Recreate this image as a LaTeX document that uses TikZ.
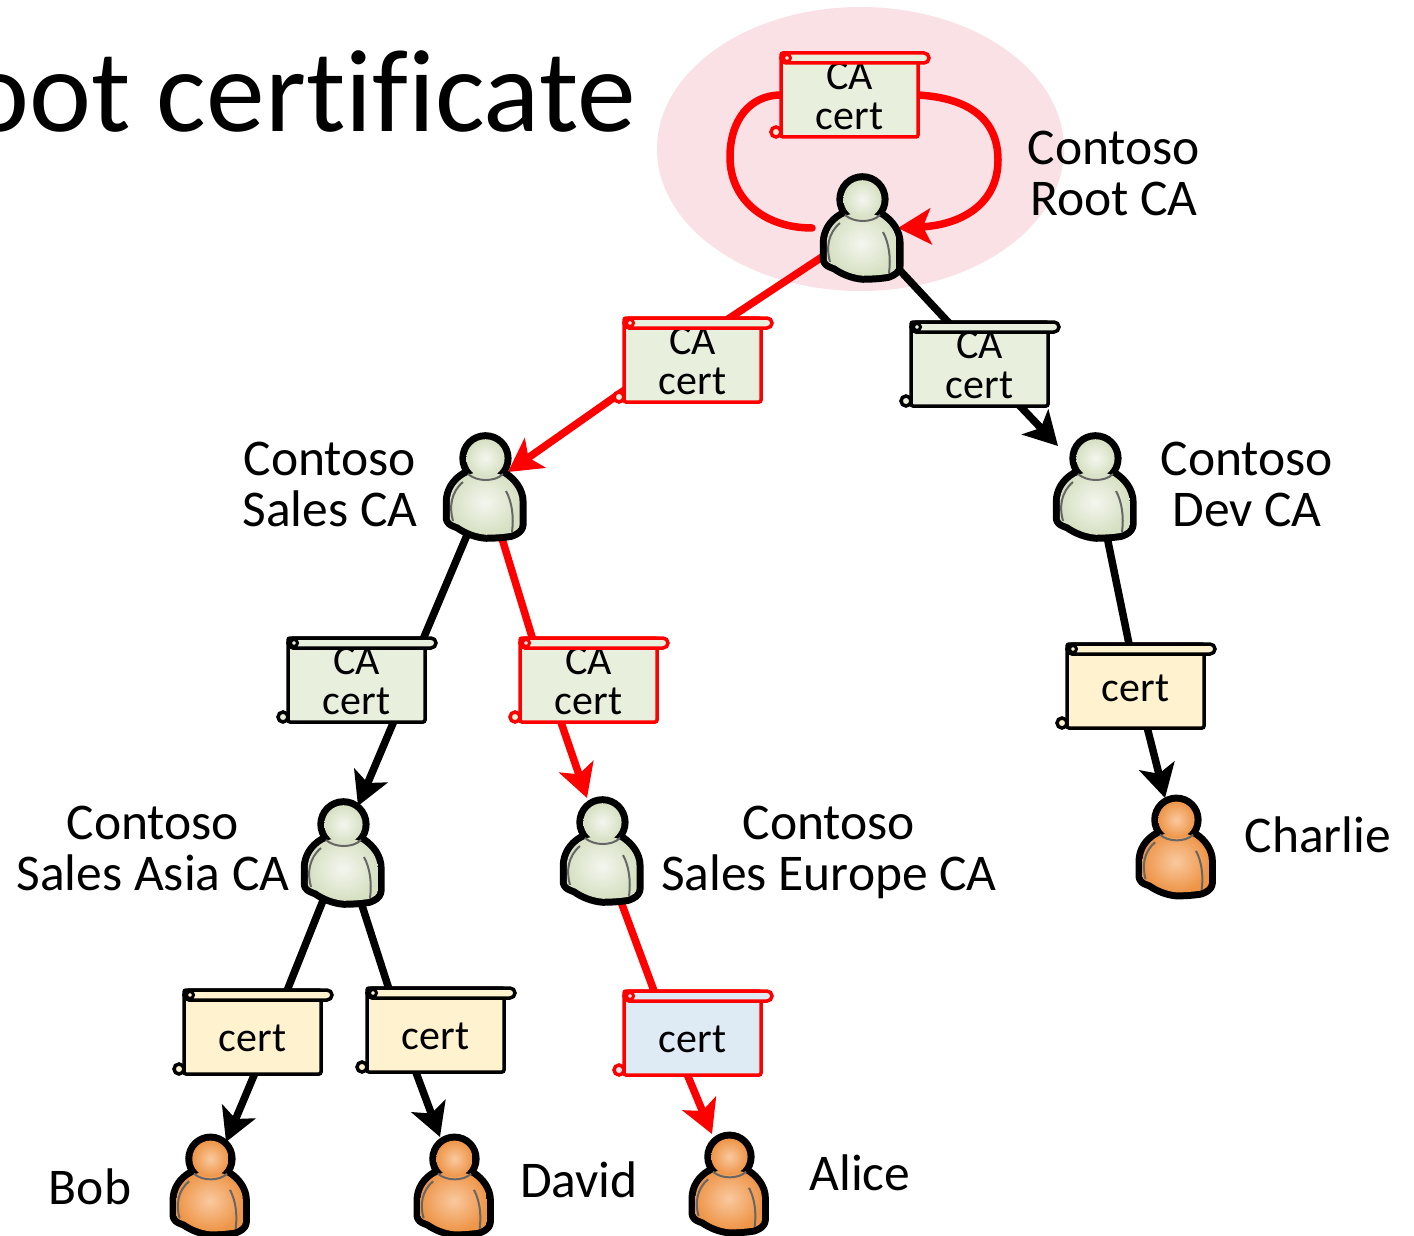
\documentclass[tikz,border=0pt]{standalone}
\usepackage{fontspec}
\setmainfont{Carlito}
\newfontfamily\titlefont[Ligatures=NoCommon]{Carlito}
\usetikzlibrary{arrows.meta,backgrounds}
\definecolor{caFill}{HTML}{E9EFDD}
\definecolor{userFill}{HTML}{FFF2CF}
\definecolor{aliceFill}{HTML}{DEEBF5}
\definecolor{rootPink}{HTML}{FAE1E5}
\definecolor{caOuter}{HTML}{D6E0C2}
\definecolor{caInner}{HTML}{F4F6EF}
\definecolor{userOuter}{HTML}{EE9548}
\definecolor{userInner}{HTML}{F9C99F}
\definecolor{collar}{HTML}{666666}
\newcommand{\twolines}{\rule{0pt}{30pt}}
\newcommand{\oneline}[1][40]{\rule{0pt}{#1pt}}
\tikzset{
    cert body/.style={rectangle,rounded corners=2pt,line width=3.5pt,minimum width=137pt,minimum height=84pt,inner sep=0pt,outer sep=0pt,align=center,font=\fontsize{42}{40}\selectfont},
    cert roll/.style={line width=3.5pt,rounded corners=5pt},
    person box/.style={rectangle,minimum width=84pt,minimum height=108pt,inner sep=0pt,outer sep=0pt},
    name label/.style={align=center,inner sep=0pt,font=\fontsize{51.5}{51}\selectfont},
    black link/.style={color=black,line width=7.5pt},
    red link/.style={color=red,line width=7.5pt}
}
\newcommand{\certscroll}[5]{%
    \node[cert body,draw=#3,fill=#4] (#1) at (#2) {#5};
    \draw[cert roll,draw=#3,fill=#4] (#1.north west) rectangle ([shift={(148,10)}]#1.north west);
    \draw[draw=#3,fill=#4,line width=3pt] ([shift={(6,5)}]#1.north west) circle[radius=3.5];
    \draw[draw=#3,fill=#4,line width=3.5pt] ([shift={(-5,-5)}]#1.south west) circle[radius=5];
}
\newcommand{\person}[5]{%
    \node[person box] (#1) at (#2) {};
    \begin{scope}[shift={(#2)},scale=#3]
        \def\bodypath{(-22,-13) .. controls (-32,-7) and (-38.7,3) .. (-38.7,15) -- (-38.7,33) .. controls (-38.7,37) and (-33,38) .. (-28.7,40) .. controls (-20,46) and (-10,50) .. (1,51) .. controls (12,51) and (22,50) .. (28,49) .. controls (34,47) and (38,44) .. (38,40) -- (38,15) .. controls (38,3) and (30,-7) .. (21,-13) .. controls (10,-20) and (-10,-20) .. (-22,-13) -- cycle}
        \begin{scope}[shift={(0,1.35)},scale=0.91]
            \draw[line width=14pt,line join=round] \bodypath;
            \draw[line width=14pt] (0.5,-33) circle[radius=21];
            \shade[inner color=#5,outer color=#4] \bodypath;
            \shade[inner color=#5,outer color=#4] (0.5,-33) circle[radius=21];
        \end{scope}
        \draw[collar,line width=2pt] (-17,-13) .. controls (-8,-5) and (10,-5) .. (18,-13);
        \draw[collar,line width=2pt] (-22,-5) .. controls (-34,5) and (-36,20) .. (-32,34);
        \draw[collar,line width=2pt] (21,4) .. controls (27,15) and (29,30) .. (27,45);
    \end{scope}
}
\begin{document}
\begin{tikzpicture}[x=1pt,y=-1pt,>={Stealth[length=33pt,width=36pt,inset=8pt]}]
    \useasboundingbox (0,0) rectangle (1414,1236);

    \node[anchor=east,inner sep=0pt,font=\titlefont\fontsize{117.5}{118}\selectfont] (title) at (636,92) {oot certificate};

    \certscroll{rootCert}{849.5,95}{red}{caFill}{\twolines CA\\cert}
    \certscroll{salesCert}{692.5,360}{red}{caFill}{\twolines CA\\cert}
    \certscroll{devCert}{979.5,364}{black}{caFill}{\twolines CA\\cert}
    \certscroll{asiaCert}{356.5,680}{black}{caFill}{\twolines CA\\cert}
    \certscroll{europeCert}{588.5,680}{red}{caFill}{\twolines CA\\cert}
    \certscroll{charlieCert}{1135.5,686}{black}{userFill}{\oneline[32]cert}
    \certscroll{bobCert}{252.5,1032}{black}{userFill}{\oneline cert}
    \certscroll{davidCert}{435.5,1030}{black}{userFill}{\oneline cert}
    \certscroll{aliceCert}{692.5,1033}{red}{aliceFill}{\oneline cert}

    \person{rootCA}{862,228}{1}{caOuter}{caInner}
    \person{salesCA}{485,487}{1}{caOuter}{caInner}
    \person{devCA}{1095,487}{1}{caOuter}{caInner}
    \person{asiaCA}{343,853}{1}{caOuter}{caInner}
    \person{europeCA}{602,851}{1}{caOuter}{caInner}
    \person{charlie}{1176,847}{0.95}{userOuter}{userInner}
    \person{bob}{210,1186}{0.95}{userOuter}{userInner}
    \person{david}{454,1186}{0.95}{userOuter}{userInner}
    \person{alice}{729,1184}{0.95}{userOuter}{userInner}

    \node[name label] (rootName) at (1114,173) {Contoso\\Root CA};
    \node[name label] (salesName) at (330,484) {Contoso\\Sales CA};
    \node[name label] (devName) at (1247,484) {Contoso\\Dev CA};
    \node[name label] (asiaName) at (153,848) {Contoso\\Sales Asia CA};
    \node[name label] (europeName) at (829,852) {Contoso\\Sales Europe CA};
    \node[name label] (charlieName) at (1318,835) {Charlie};
    \node[name label] (bobName) at (90,1187) {Bob};
    \node[name label] (davidName) at (579,1180) {David};
    \node[name label] (aliceName) at (860,1173) {Alice};

    \begin{pgfonlayer}{background}
        \fill[rootPink] (860.5,149) ellipse[x radius=203.5,y radius=142];

        \path[red link]
            ([shift={(-37,27)}]rootCA.center) edge ([shift={(22,-32)}]salesCert.center)
            ([shift={(-65,28)}]salesCert.center) edge[->] ([shift={(23,-15)}]salesCA.center)
            ([shift={(15,45)}]salesCA.center) edge ([shift={(-54,-35)}]europeCert.center)
            ([shift={(-30,35)}]europeCert.center) edge[->] ([shift={(-15,-53)}]europeCA.center)
            ([shift={(15,40)}]europeCA.center) edge ([shift={(-34,-30)}]aliceCert.center)
            ([shift={(-8,35)}]aliceCert.center) edge[->] ([shift={(-17,-50)}]alice.center);

        \path[black link]
            ([shift={(32,36)}]rootCA.center) edge ([shift={(-25,-35)}]devCert.center)
            ([shift={(30,31)}]devCert.center) edge[->] ([shift={(-37,-41)}]devCA.center)
            ([shift={(-15,41)}]salesCA.center) edge ([shift={(62,-30)}]asiaCert.center)
            ([shift={(40,35)}]asiaCert.center) edge[->] ([shift={(15,-47)}]asiaCA.center)
            ([shift={(10,40)}]devCA.center) edge ([shift={(-4,-30)}]charlieCert.center)
            ([shift={(10,35)}]charlieCert.center) edge[->] ([shift={(-11,-49)}]charlie.center)
            ([shift={(-17,40)}]asiaCA.center) edge ([shift={(30,-30)}]bobCert.center)
            ([shift={(5,35)}]bobCert.center) edge[->] ([shift={(16,-44)}]bob.center)
            ([shift={(15,40)}]asiaCA.center) edge ([shift={(-43,-30)}]davidCert.center)
            ([shift={(-23,33)}]davidCert.center) edge[->] ([shift={(-14,-49)}]david.center);

        \draw[red link,line cap=round] (rootCert.west) .. controls (750,95) and (730,120) .. (730,157) .. controls (730,200) and (765,228) .. ([xshift=-50pt]rootCA.center);
        \draw[red link,->] (rootCert.east) .. controls (970,98) and (998,120) .. (998,160) .. controls (998,205) and (960,225) .. ([xshift=36pt]rootCA.center);
    \end{pgfonlayer}
\end{tikzpicture}
\end{document}
